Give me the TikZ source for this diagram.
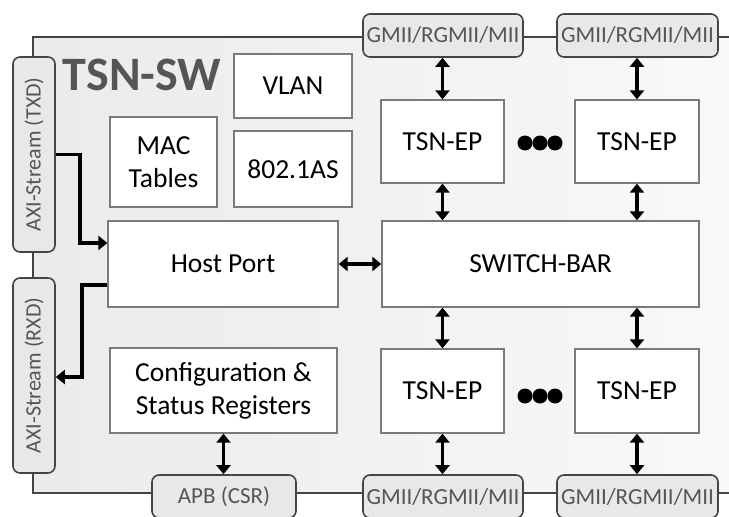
\documentclass[tikz,border=0pt]{standalone}
\usepackage{fontspec}
\setmainfont{Carlito}
\usetikzlibrary{arrows.meta,calc}
\definecolor{framec}{HTML}{444444}
\definecolor{boxc}{HTML}{7A7A7A}
\definecolor{pillfill}{HTML}{E8E8E8}
\definecolor{txtgray}{HTML}{555555}
\begin{document}
\begin{tikzpicture}[x=1pt,y=-1pt,
  box/.style={draw=boxc,line width=1.3pt,fill=white,align=center,inner sep=0pt,font=\fontsize{27.5}{33}\selectfont},
  pill/.style={draw=framec,line width=1.6pt,fill=pillfill,rounded corners=7pt,inner sep=0pt,text=txtgray,font=\fontsize{23}{27}\selectfont},
  frame/.style={draw=framec,line width=2pt},
  arr/.style={line width=3.2pt,{Triangle[width=14pt,length=9pt]}-{Triangle[width=14pt,length=9pt]}},
  sarr/.style={line width=3.2pt,-{Triangle[width=14pt,length=9pt]}},
  dot/.style={circle,fill=black,inner sep=0pt,minimum size=15pt}]
\useasboundingbox (0,0) rectangle (729,517);
\clip (0,0) rectangle (729,517);
% frame
\shade[left color=black!8,right color=black!2] (33,37) rectangle (780,493);
\draw[frame] (33,37) rectangle (780,493);
% title
\node[text=txtgray,font=\fontsize{48}{54}\selectfont\bfseries] (title) at (142,75) {TSN-SW};
% boxes
\node[box,minimum width=118,minimum height=64] (vlan) at (293,86) {VLAN};
\node[box,minimum width=107,minimum height=90] (mac) at (163.5,162) {MAC\\Tables};
\node[box,minimum width=118,minimum height=76] (as) at (293,169) {802.1AS};
\node[box,minimum width=230,minimum height=86] (host) at (223,264) {Host Port};
\node[box,minimum width=227,minimum height=85] (cfg) at (223.5,390.5) {Configuration \&\\Status Registers};
\node[box,minimum width=123,minimum height=83] (ep1) at (442.5,141.5) {TSN-EP};
\node[box,minimum width=124,minimum height=83] (ep2) at (637,141.5) {TSN-EP};
\node[box,minimum width=317,minimum height=86] (sw) at (540.5,264) {SWITCH-BAR};
\node[box,minimum width=123,minimum height=84] (ep3) at (442.5,391) {TSN-EP};
\node[box,minimum width=124,minimum height=84] (ep4) at (637,391) {TSN-EP};
% dots
\node[dot] (d1) at (525,143) {};
\node[dot] (d2) at (540,143) {};
\node[dot] (d3) at (555,143) {};
\node[dot] (d4) at (525,396) {};
\node[dot] (d5) at (540,396) {};
\node[dot] (d6) at (555,396) {};
% pills
\node[pill,minimum width=160,minimum height=43] (g1) at (443,35.5) {GMII/RGMII/MII};
\node[pill,minimum width=161,minimum height=43] (g2) at (637.5,35.5) {GMII/RGMII/MII};
\node[pill,minimum width=160,minimum height=43] (g3) at (443,496.5) {GMII/RGMII/MII};
\node[pill,minimum width=161,minimum height=43] (g4) at (637.5,496.5) {GMII/RGMII/MII};
\node[pill,minimum width=144,minimum height=43] (apb) at (224,496.5) {APB (CSR)};
\node[pill,minimum width=195,minimum height=42,rotate=90,font=\fontsize{22}{26}\selectfont] (txd) at (34,154.5) {AXI-Stream (TXD)};
\node[pill,minimum width=195,minimum height=42,rotate=90,font=\fontsize{22}{26}\selectfont] (rxd) at (34,375.5) {AXI-Stream (RXD)};
% arrows
\draw[arr] (g1.south -| ep1.north) -- (ep1.north);
\draw[arr] (g2.south -| ep2.north) -- (ep2.north);
\draw[arr] (ep1.south) -- (sw.north -| ep1.south);
\draw[arr] (ep2.south) -- (sw.north -| ep2.south);
\draw[arr] (sw.south -| ep3.north) -- (ep3.north);
\draw[arr] (sw.south -| ep4.north) -- (ep4.north);
\draw[arr] (ep3.south) -- (g3.north -| ep3.south);
\draw[arr] (ep4.south) -- (g4.north -| ep4.south);
\draw[arr] (cfg.south) -- (apb.north -| cfg.south);
\draw[arr] (host.east) -- (sw.west);
\draw[sarr] (txd.south |- 0,154.5) -- (80,154.5) |- (host.west |- 0,243);
\draw[sarr] (host.west |- 0,285) -- (82,285) |- (rxd.south |- 0,377);
\end{tikzpicture}
\end{document}
